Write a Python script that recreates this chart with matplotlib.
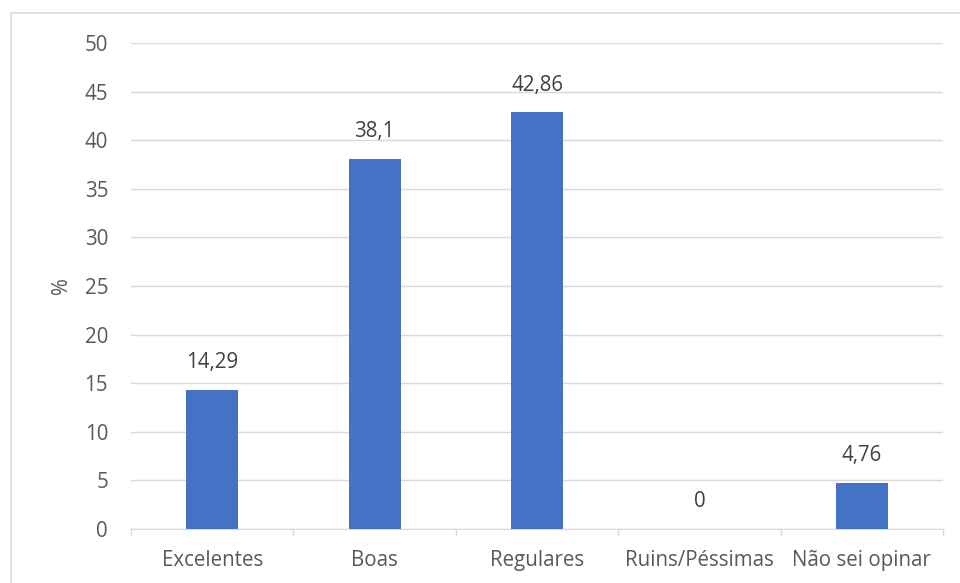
import matplotlib.pyplot as plt
from matplotlib.lines import Line2D

categories = ["Excelentes", "Boas", "Regulares", "Ruins/Péssimas", "Não sei opinar"]
values = [14.29, 38.1, 42.86, 0, 4.76]
labels = ["14,29", "38,1", "42,86", "0", "4,76"]

plt.rcParams['font.family'] = ['Open Sans', 'DejaVu Sans']

W, H = 960, 583
fig = plt.figure(figsize=(9.6, 5.83), dpi=100)
ax = fig.add_axes([131 / W, 1 - 529 / H, (943 - 131) / W, (529 - 43) / H])

x = list(range(len(categories)))
ax.bar(x, values, width=0.32, color="#4472C4", zorder=3)
for xi, v, lab in zip(x, values, labels):
    ax.text(xi, v + 2.8, lab, ha="center", va="center", fontsize=14.8, color="#404040")

ax.set_xlim(-0.5, len(categories) - 0.5)
ax.set_ylim(0, 50)
ax.set_yticks(range(0, 51, 5))
ax.yaxis.grid(True, color="#D9D9D9", linewidth=1, zorder=0)
ax.set_xticks(x)
ax.set_xticklabels(categories)
ax.tick_params(axis="x", length=0, pad=15, labelsize=14.8, labelcolor="#595959")
ax.tick_params(axis="y", length=0, pad=16.5, labelsize=14.8, labelcolor="#595959")

# category separators below the axis
for b in [i - 0.5 for i in range(len(categories) + 1)]:
    ax.plot([b, b], [0, -0.6], color="#D9D9D9", lw=1, clip_on=False, zorder=2)

for s in ["top", "right", "left"]:
    ax.spines[s].set_visible(False)
ax.spines["bottom"].set_color("#D9D9D9")
ax.set_ylabel("%", fontsize=14.8, color="#595959", labelpad=9)

# chart area border
fig.add_artist(Line2D([11 / W, 11 / W, 1], [0, 1 - 13 / H, 1 - 13 / H],
                      transform=fig.transFigure, color="#D9D9D9", lw=1.2))

fig.savefig("out.png", dpi=100, facecolor="white")
